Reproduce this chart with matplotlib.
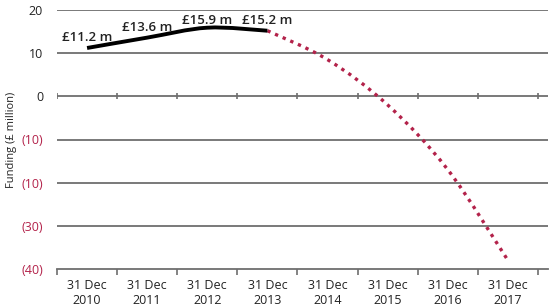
import matplotlib
matplotlib.use("Agg")
import matplotlib.pyplot as plt
from matplotlib.path import Path
from matplotlib.patches import PathPatch

# data
years = ["2010", "2011", "2012", "2013", "2014", "2015", "2016", "2017"]
actual_idx = [0, 1, 2, 3]
actual_vals = [11.2, 13.6, 15.9, 15.2]
actual_labels = ["£11.2 m", "£13.6 m", "£15.9 m", "£15.2 m"]
proj_idx = [3, 4, 5, 6, 7]
proj_vals = [15.2, 8.5, -2.0, -17.0, -38.0]
ytick_vals = [20, 10, 0, -10, -20, -30, -40]
ytick_text = ["20", "10", "0", "(10)", "(10)", "(30)", "(40)"]

RED = "#b3224a"
GRID = "#6e6e6e"
TXT = "#222222"
FONT = ["Open Sans", "DejaVu Sans"]


def smooth_path(xs, ys, t=0.5):
    # catmull-rom style curve through the points, drawn as cubic bezier
    verts = [(xs[0], ys[0])]
    codes = [Path.MOVETO]
    n = len(xs)
    for i in range(n - 1):
        x0, y0 = (xs[i - 1], ys[i - 1]) if i > 0 else (xs[i], ys[i])
        x1, y1 = xs[i], ys[i]
        x2, y2 = xs[i + 1], ys[i + 1]
        x3, y3 = (xs[i + 2], ys[i + 2]) if i + 2 < n else (x2, y2)
        c1 = (x1 + (x2 - x0) * t / 3, y1 + (y2 - y0) * t / 3)
        c2 = (x2 - (x3 - x1) * t / 3, y2 - (y3 - y1) * t / 3)
        verts += [c1, c2, (x2, y2)]
        codes += [Path.CURVE4] * 3
    return Path(verts, codes)


fig = plt.figure(figsize=(5.5, 3.06), dpi=100)
ax = fig.add_axes([57 / 550, 1 - 269 / 306, (548 - 57) / 550, (269 - 10) / 306])

ax.set_xlim(-0.5, 7.5 + 10 / 60.1)
ax.set_ylim(-40, 20)

for s in ["top", "right", "left"]:
    ax.spines[s].set_visible(False)
ax.spines["bottom"].set_color(GRID)
ax.spines["bottom"].set_linewidth(1.3)

# gridlines
for v in ytick_vals[:-1]:
    ax.axhline(v, color=GRID, lw=1.3, zorder=1)

# ticks on the zero line
bounds = [i - 0.5 for i in range(len(years) + 1)]
ax.vlines(bounds, -0.7, 0.7, color=GRID, lw=1.2, zorder=1)

# x axis: ticks at boundaries, labels at centres
ax.set_xticks(bounds)
ax.set_xticklabels([])
ax.tick_params(axis="x", which="major", direction="out", length=4.5, width=1.2, color=GRID)
ax.set_xticks(range(len(years)), minor=True)
ax.set_xticklabels(["31 Dec\n" + y for y in years], minor=True, fontsize=9, family=FONT, color=TXT)
ax.tick_params(axis="x", which="minor", length=0, pad=7)

# y axis
ax.set_yticks(ytick_vals)
ax.set_yticklabels(ytick_text, fontsize=9, family=FONT)
ax.tick_params(axis="y", length=0, pad=10)
for lab, v in zip(ax.get_yticklabels(), ytick_vals):
    lab.set_color(RED if v < 0 else TXT)
ax.set_ylabel("Funding (£ million)", fontsize=8, family=FONT, color=TXT)
ax.yaxis.set_label_coords(-0.082, 0.5)

# lines
red = PathPatch(smooth_path(proj_idx, proj_vals), facecolor="none", edgecolor=RED, lw=2.4,
                linestyle=(0, (1, 1.5)), zorder=3, clip_on=False)
ax.add_patch(red)
black = PathPatch(smooth_path(actual_idx, actual_vals), facecolor="none", edgecolor="black", lw=2.8,
                  capstyle="butt", zorder=4, clip_on=False)
ax.add_patch(black)

# value labels
offsets = [(0, 5), (0, 5), (0, 3), (0, 5)]
for x, v, t, off in zip(actual_idx, actual_vals, actual_labels, offsets):
    ax.annotate(t, (x, v), xytext=off, textcoords="offset points", ha="center", va="baseline",
                fontsize=9.5, fontweight="semibold", family=FONT, color=TXT)

fig.savefig("out.png", dpi=100)
